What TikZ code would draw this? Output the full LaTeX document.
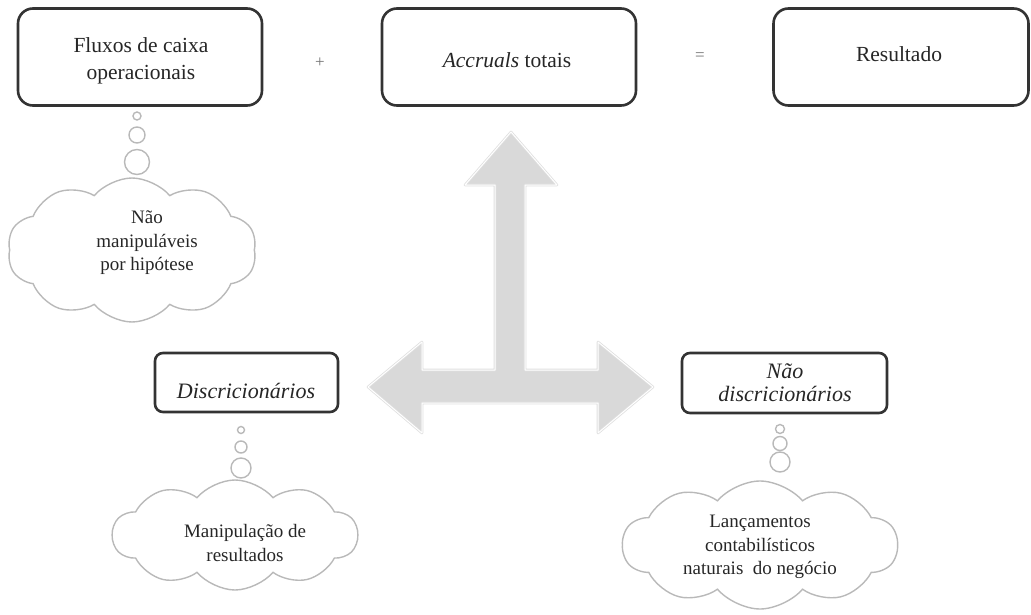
\documentclass[tikz,border=0pt]{standalone}
\usepackage{fontspec}
\setmainfont{LiberationSerif}[Extension=.ttf, UprightFont=*-Regular, ItalicFont=*-Italic, BoldFont=*-Bold, BoldItalicFont=*-BoldItalic]
\usetikzlibrary{shapes.symbols}
\newcommand\myfs[2]{\fontsize{#1}{#2}\selectfont}
\begin{document}
\begin{tikzpicture}[x=1pt,y=-1pt,
  box/.style={draw=black!80, line width=2.6pt, rounded corners=15pt, fill=white},
  boxtext/.style={font=\myfs{21.5}{27}, text=black!85, align=center},
  disctext/.style={font=\myfs{22}{23}\itshape, text=black!85, align=center},
  op/.style={font=\myfs{17}{20}, text=black!55},
  cloudshape/.style={cloud, cloud puffs=10, cloud puff arc=100, cloud ignores aspect, draw=gray!55, line width=1.4pt, inner sep=0pt},
  cloudtext/.style={font=\myfs{19}{23.5}, text=black!85, align=center},
  bubble/.style={circle, draw=gray!55, line width=1.4pt, inner sep=0pt},
  bigarrow/.style={fill=gray!30, draw=gray!25, double=white, double distance=1pt, line width=0.8pt, line join=round}
]
\useasboundingbox (0,0) rectangle (1031,615);

% big three-headed arrow
\path[bigarrow] (511,132) -- (557,185) -- (525,185) -- (525,370) -- (598,370) -- (598,342)
  -- (653,387) -- (598,433) -- (598,403) -- (422,403) -- (422,433) -- (368,387)
  -- (422,342) -- (422,370) -- (495,370) -- (495,185) -- (465,185) -- cycle;

% top row boxes
\node[box, minimum width=244pt, minimum height=97pt] (b1) at (140,57) {};
\node[boxtext] (t1) at (141,61) {Fluxos de caixa\\operacionais};
\node[op] (plus) at (320,63) {+};
\node[box, minimum width=254pt, minimum height=97pt] (b2) at (509,57) {};
\node[boxtext] (t2) at (507,60) {\textit{Accruals} totais};
\node[op] (eq) at (700,57) {=};
\node[box, minimum width=255pt, minimum height=97pt] (b3) at (901,57) {};
\node[boxtext] (t3) at (899,54) {Resultado};

% second row boxes
\node[box, rounded corners=8pt, minimum width=183pt, minimum height=59pt] (b4) at (246.5,382.5) {};
\node[disctext] (t4) at (246,391) {Discricionários};
\node[box, rounded corners=8pt, minimum width=205pt, minimum height=60pt] (b5) at (784.5,383) {};
\node[disctext] (t5) at (785,383) {Não\\discricionários};

% cloud 1
\node[bubble, minimum size=8pt] (s1) at (137,116) {};
\node[bubble, minimum size=16pt] (m1) at (137,135) {};
\node[bubble, minimum size=25pt] (l1) at (137,162) {};
\node[cloudshape, minimum width=249pt, minimum height=144pt] (c1) at (132,250) {};
\node[cloudtext] (ct1) at (147,243) {Não\\manipuláveis\\por hipótese};

% cloud 2
\node[bubble, minimum size=7pt] (s2) at (241,430) {};
\node[bubble, minimum size=12pt] (m2) at (241,447) {};
\node[bubble, minimum size=20pt] (l2) at (241,468) {};
\node[cloudshape, minimum width=245pt, minimum height=110pt] (c2) at (235,535) {};
\node[cloudtext] (ct2) at (245,543) {Manipulação de\\resultados};

% cloud 3
\node[bubble, minimum size=9pt] (s3) at (780,429) {};
\node[bubble, minimum size=14pt] (m3) at (780,443.5) {};
\node[bubble, minimum size=20pt] (l3) at (780,462) {};
\node[cloudshape, minimum width=275pt, minimum height=128pt] (c3) at (760,545) {};
\node[cloudtext] (ct3) at (760,547) {Lançamentos\\contabilísticos\\naturais\ \ do negócio};
\end{tikzpicture}
\end{document}
